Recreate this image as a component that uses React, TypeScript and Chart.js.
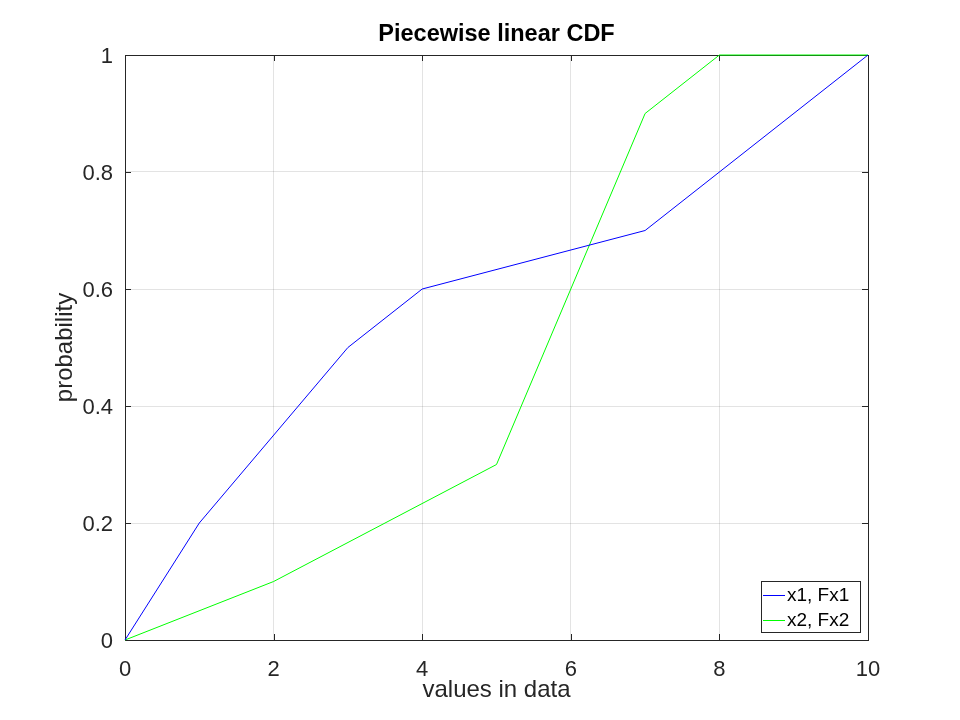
import React, { useEffect, useRef } from "react";
import Chart from "chart.js/auto";

const x1 = [0, 1, 3, 4, 7, 10];
const Fx1 = [0, 0.2, 0.5, 0.6, 0.7, 1];
const x2 = [0, 2, 5, 7, 8, 10];
const Fx2 = [0, 0.1, 0.3, 0.9, 1, 1];
const seriesLabels = ["x1, Fx1", "x2, Fx2"];
const seriesColors = ["#0000ff", "#00ff00"];

const titleText = "Piecewise linear CDF";
const xLabel = "values in data";
const yLabel = "probability";

const axisColor = "#262626";
const fontFamily = "'Liberation Sans', Arial, sans-serif";

// octave-ish box: full frame and inward ticks under the lines, title and legend on top
const octaveFrame = {
  id: "octaveFrame",
  beforeDatasetsDraw(chart: any) {
    const { ctx, chartArea: a, scales } = chart;
    ctx.save();
    ctx.strokeStyle = axisColor;
    ctx.lineWidth = 1;
    ctx.strokeRect(a.left + 0.5, a.top + 0.5, a.right - a.left, a.bottom - a.top);

    const len = 6;
    ctx.beginPath();
    scales.x.ticks.forEach((t: any) => {
      const px = Math.round(scales.x.getPixelForValue(t.value)) + 0.5;
      ctx.moveTo(px, a.bottom);
      ctx.lineTo(px, a.bottom - len);
      ctx.moveTo(px, a.top);
      ctx.lineTo(px, a.top + len);
    });
    scales.y.ticks.forEach((t: any) => {
      const py = Math.round(scales.y.getPixelForValue(t.value)) + 0.5;
      ctx.moveTo(a.left, py);
      ctx.lineTo(a.left + len, py);
      ctx.moveTo(a.right, py);
      ctx.lineTo(a.right - len, py);
    });
    ctx.stroke();
    ctx.restore();
  },
  afterDraw(chart: any) {
    const { ctx, chartArea: a } = chart;
    ctx.save();
    ctx.lineWidth = 1;

    // title
    ctx.fillStyle = "#000000";
    ctx.font = `bold 23.5px ${fontFamily}`;
    ctx.textAlign = "center";
    ctx.textBaseline = "middle";
    ctx.fillText(titleText, (a.left + a.right) / 2, 35);

    // legend box, bottom right inside the axes
    const bx = a.right - 107;
    const by = a.bottom - 59;
    const bw = 99;
    const bh = 51;
    ctx.fillStyle = "#ffffff";
    ctx.fillRect(bx, by, bw, bh);
    ctx.strokeStyle = axisColor;
    ctx.strokeRect(bx + 0.5, by + 0.5, bw, bh);
    ctx.font = `19px ${fontFamily}`;
    ctx.textAlign = "left";
    chart.data.datasets.forEach((ds: any, i: number) => {
      const ry = by + 14 + i * 25;
      ctx.strokeStyle = ds.borderColor;
      ctx.beginPath();
      ctx.moveTo(bx + 2, ry + 0.5);
      ctx.lineTo(bx + 24, ry + 0.5);
      ctx.stroke();
      ctx.fillStyle = "#000000";
      ctx.fillText(ds.label, bx + 26, ry + 1);
    });
    ctx.restore();
  },
};

const App: React.FC = () => {
  const chartRef = useRef<HTMLCanvasElement | null>(null);

  useEffect(() => {
    document.body.style.margin = "0";
    if (!chartRef.current) return;
    const ctx = chartRef.current.getContext("2d");
    if (!ctx) return;

    const chart = new Chart(ctx, {
      type: "line",
      data: {
        datasets: [
          {
            label: seriesLabels[0],
            data: x1.map((x, i) => ({ x, y: Fx1[i] })),
            borderColor: seriesColors[0],
            borderWidth: 1,
            pointRadius: 0,
            fill: false,
            clip: false,
          },
          {
            label: seriesLabels[1],
            data: x2.map((x, i) => ({ x, y: Fx2[i] })),
            borderColor: seriesColors[1],
            borderWidth: 1,
            pointRadius: 0,
            fill: false,
            clip: false,
          },
        ],
      },
      options: {
        animation: false,
        responsive: false,
        devicePixelRatio: 1,
        layout: { padding: { top: 55, right: 92, left: 0, bottom: 0 } },
        plugins: {
          legend: { display: false },
          title: { display: false },
          tooltip: { enabled: false },
        },
        scales: {
          x: {
            type: "linear",
            min: 0,
            max: 10,
            afterFit: (s: any) => {
              s.height = 80;
            },
            ticks: {
              stepSize: 2,
              padding: 17,
              color: axisColor,
              font: { family: fontFamily, size: 22 },
            },
            grid: { color: "rgba(38,38,38,0.13)", drawTicks: false },
            border: { display: false },
            title: {
              display: true,
              text: xLabel,
              color: axisColor,
              font: { family: fontFamily, size: 24 },
              padding: { top: 0, bottom: 15 },
            },
          },
          y: {
            type: "linear",
            min: 0,
            max: 1,
            afterFit: (s: any) => {
              s.width = 125;
            },
            ticks: {
              stepSize: 0.2,
              padding: 12,
              labelOffset: 2,
              color: axisColor,
              font: { family: fontFamily, size: 22 },
              callback: (v: any) => String(Number(Number(v).toFixed(1))),
            },
            grid: { color: "rgba(38,38,38,0.13)", drawTicks: false },
            border: { display: false },
            title: {
              display: true,
              text: yLabel,
              color: axisColor,
              font: { family: fontFamily, size: 24 },
              padding: { top: 51, bottom: 0 },
            },
          },
        },
      },
      plugins: [octaveFrame],
    });

    return () => {
      chart.destroy();
    };
  }, []);

  return <canvas ref={chartRef} width={960} height={720} />;
};

export default App;
